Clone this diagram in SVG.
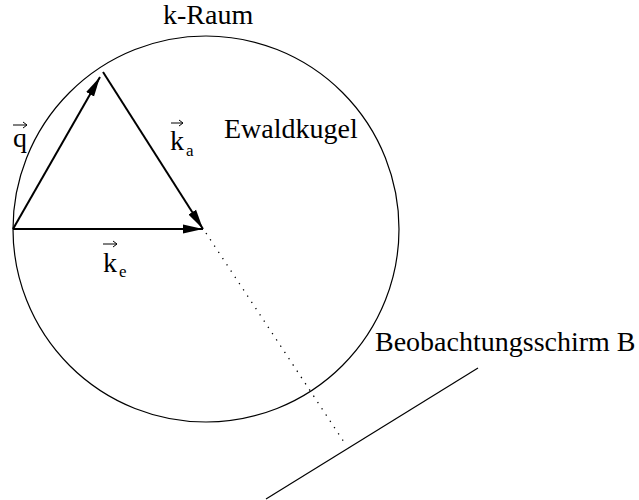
<svg xmlns="http://www.w3.org/2000/svg" width="639" height="500" viewBox="0 0 639 500">
<style>
text{font-family:'Liberation Serif','Times New Roman',Times,serif;fill:#000}
.lbl{font-size:28px}
.sub{font-size:17px}
.vec{stroke:#000;stroke-width:2;fill:none}
.thin{stroke:#000;stroke-width:1.2;fill:none}
.over{stroke:#000;stroke-width:1;fill:none}
</style>
<defs>
<marker id="ah" markerUnits="userSpaceOnUse" markerWidth="20" markerHeight="10" viewBox="0 0 20 10" refX="20" refY="5" orient="auto">
<path d="M0,0.5 L20,5 L0,9.5 Z" fill="#000"/>
</marker>
</defs>
<rect width="639" height="500" fill="#fff"/>
<g id="ewaldkugel">
<circle cx="206" cy="229" r="193" class="thin"/>
<text class="lbl" x="224" y="138">Ewaldkugel</text>
</g>
<g id="kraum">
<text class="lbl" x="163" y="24">k-Raum</text>
</g>
<g id="schirm">
<line x1="478" y1="368" x2="266" y2="499" class="thin"/>
<text class="lbl" x="375" y="351">Beobachtungsschirm B</text>
</g>
<g id="connectors">
<line x1="13" y1="229" x2="100" y2="77" class="vec" marker-end="url(#ah)"/>
<line x1="103" y1="72" x2="203" y2="229" class="vec" marker-end="url(#ah)"/>
<line x1="13" y1="229" x2="203" y2="229" class="vec" marker-end="url(#ah)"/>
<line x1="206" y1="233" x2="344" y2="442" stroke="#000" stroke-width="1.3" stroke-dasharray="1.3 6.2"/>
</g>
<g id="label-q">
<text class="lbl" x="13" y="147">q</text>
<path class="over" d="M13,125 H27 M23,122 L27,125 L23,128"/>
</g>
<g id="label-ka">
<text class="lbl" x="170" y="150">k</text>
<text class="sub" x="186" y="156">a</text>
<path class="over" d="M171,123 H183 M179,120 L183,123 L179,126"/>
</g>
<g id="label-ke">
<text class="lbl" x="103" y="272">k</text>
<text class="sub" x="119" y="277">e</text>
<path class="over" d="M103,244 H117 M113,241 L117,244 L113,247"/>
</g>
</svg>
